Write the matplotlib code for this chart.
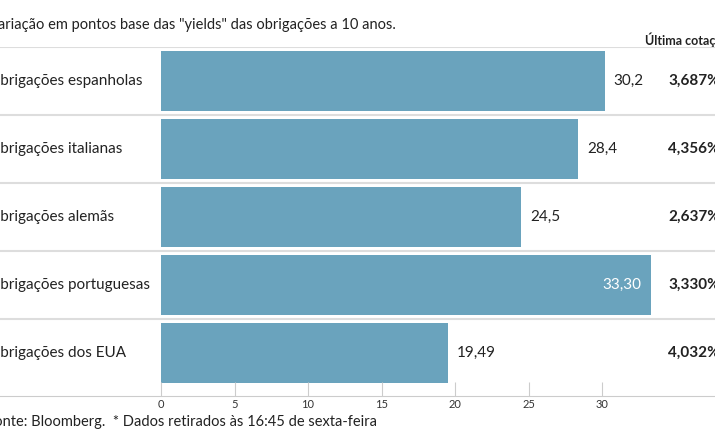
import matplotlib.pyplot as plt

plt.rcParams["font.family"] = "Lato"

categories = ["Obrigações espanholas", "Obrigações italianas", "Obrigações alemãs",
              "Obrigações portuguesas", "Obrigações dos EUA"]
values = [30.2, 28.4, 24.5, 33.30, 19.49]
value_labels = ["30,2", "28,4", "24,5", "33,30", "19,49"]
last_quote = ["3,687%", "4,356%", "2,637%", "3,330%", "4,032%"]
inside = [False, False, False, True, False]

W, H = 715, 445
px_per_unit = 14.7
x0_px = 161
fig = plt.figure(figsize=(W / 100, H / 100), dpi=100)
top_px, bot_px = 47, 396
ax = fig.add_axes([0, 1 - bot_px / H, 1, (bot_px - top_px) / H])
ax.set_xlim(-x0_px / px_per_unit, (W - x0_px) / px_per_unit)
row_px = 68
ax.set_ylim((bot_px - top_px) / row_px, 0)

bar_color = "#6aa3bd"
for i, (v, lab, q, ins) in enumerate(zip(values, value_labels, last_quote, inside)):
    c = i + 0.5
    ax.barh(c, v, height=0.87, color=bar_color)
    if ins:
        ax.text(v - 0.6, c, lab, ha="right", va="center", color="white", fontsize=11)
    else:
        ax.text(v + 0.6, c, lab, ha="left", va="center", color="#222222", fontsize=11)
    ax.text(-(x0_px + 12) / px_per_unit, c, categories[i], ha="left", va="center",
            color="#222222", fontsize=11)
    ax.text((668 - x0_px) / px_per_unit, c, q, ha="left", va="center",
            color="#222222", fontsize=11, fontweight="bold")
    ax.axhline(i, color="#dddddd", lw=1.5, zorder=0)

for s in ["top", "left", "right"]:
    ax.spines[s].set_visible(False)
ax.spines["bottom"].set_color("#cccccc")
ax.set_xticks(range(0, 35, 5))
ax.tick_params(axis="x", direction="in", length=10, color="#cccccc", labelsize=8,
               labelcolor="#333333", pad=2)
ax.set_yticks([])

fig.text(-12 / W, 1 - 25 / H, "Variação em pontos base das \"yields\" das obrigações a 10 anos.",
         ha="left", va="center", fontsize=10.5, color="#222222")
fig.text(645 / W, 1 - 40 / H, "Última cotação*", ha="left", va="center",
         fontsize=9, fontweight="bold", color="#222222")
fig.text(-14 / W, 1 - 422 / H, "Fonte: Bloomberg.  * Dados retirados às 16:45 de sexta-feira",
         ha="left", va="center", fontsize=10.5, color="#222222")

fig.savefig("out.png", dpi=100)
